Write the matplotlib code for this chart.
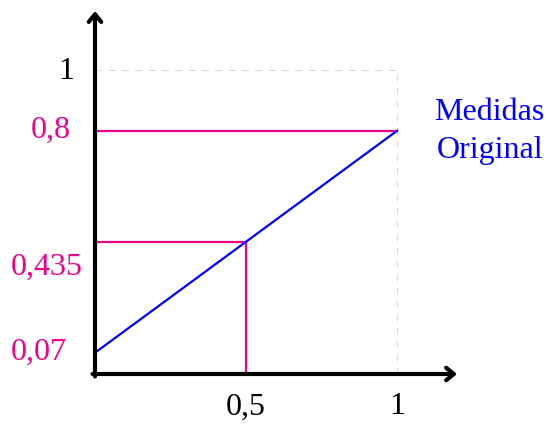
import matplotlib
matplotlib.use("Agg")
import matplotlib.pyplot as plt

# data
x_vals = [0.0, 1.0]
y_vals = [0.07, 0.8]
x_mid = 0.5
y_mid = 0.435
x_ticks = [0.5, 1.0]
x_tick_labels = ["0,5", "1"]
y_label_texts = ["1", "0,8", "0,435", "0,07"]
y_label_pos = [0.995, 0.8, 0.35, 0.07]
y_label_x = [-0.095, -0.145, -0.16, -0.185]
y_label_colors = ["black", "#EC008C", "#EC008C", "#EC008C"]
series_label = "Medidas\nOriginal"

MAG = "#EC008C"
BLUE = "#0000FF"

plt.rcParams["font.family"] = ["Liberation Serif", "DejaVu Serif"]
FS = 23

fig = plt.figure(figsize=(5.48, 4.24), dpi=100)
ax = fig.add_axes([0, 0, 1, 1])
ax.set_xlim(-95/302, (548-95)/302)
ax.set_ylim(-(424-374)/304, 374/304)
ax.axis("off")

# gray dashed guides
ax.plot([0, 1], [1, 1], color="#d8d8d8", lw=0.8, dashes=(6, 6), zorder=1)
ax.plot([1, 1], [0, 1], color="#d8d8d8", lw=0.8, dashes=(6, 6), zorder=1)

# magenta lines
ax.plot([0, 1], [y_vals[1], y_vals[1]], color=MAG, lw=1.6, zorder=2)
ax.plot([0, x_mid], [y_mid, y_mid], color=MAG, lw=1.6, zorder=2)
ax.plot([x_mid, x_mid], [0, y_mid], color=MAG, lw=1.6, zorder=2)

# blue line
ax.plot(x_vals, y_vals, color=BLUE, lw=1.6, zorder=3)

# axes with arrows
astyle = "->,head_length=0.55,head_width=0.45"
ax.annotate("", xy=(1.199, 0), xytext=(-0.008, 0),
            arrowprops=dict(arrowstyle=astyle, lw=3, color="black",
                            shrinkA=0, shrinkB=0), zorder=4)
ax.annotate("", xy=(0, 1.194), xytext=(0, -0.008),
            arrowprops=dict(arrowstyle=astyle, lw=3, color="black",
                            shrinkA=0, shrinkB=0), zorder=4)

# tick labels
for xv, lab in zip(x_ticks, x_tick_labels):
    ax.text(xv, -0.108, lab, ha="center", va="center", fontsize=FS, color="black")
for t, yp, xp, c in zip(y_label_texts, y_label_pos, y_label_x, y_label_colors):
    ax.text(xp, yp, t, ha="center", va="center", fontsize=FS, color=c)

ax.text(1.307, 0.797, series_label, ha="center", va="center", fontsize=FS, color=BLUE,
        linespacing=1.42)

fig.savefig("out.png", dpi=100)
